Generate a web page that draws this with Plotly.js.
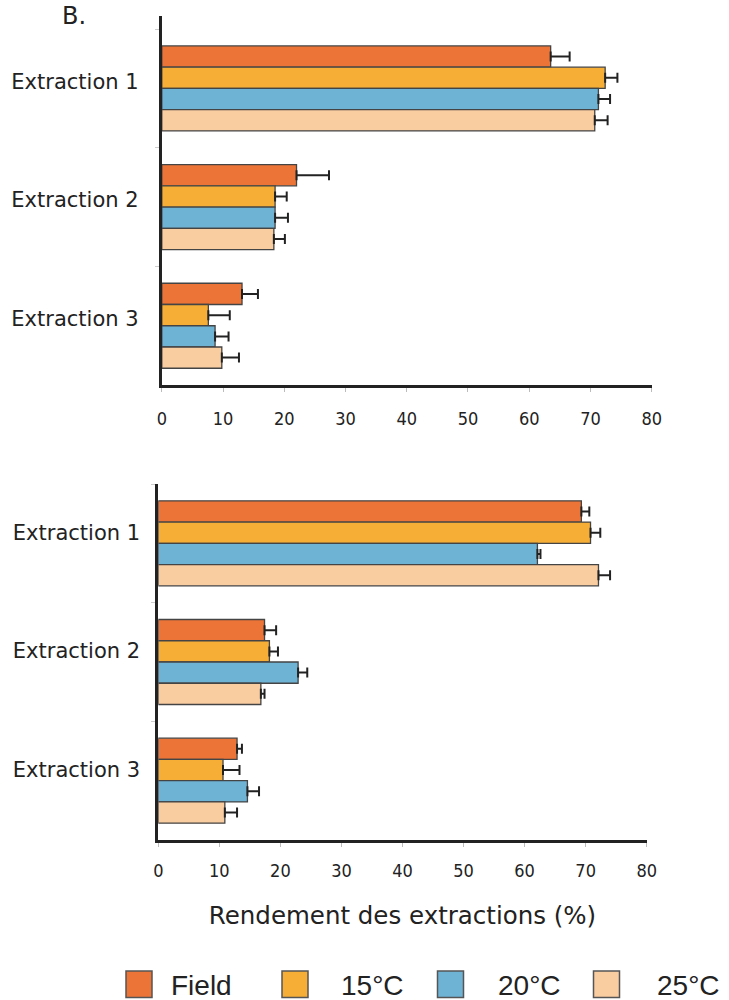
<!DOCTYPE html>
<html>
<head>
<meta charset="utf-8">
<script src="https://cdn.plot.ly/plotly-3.0.1.min.js"></script>
<style>html,body{margin:0;padding:0;background:#fff;}#chart{width:729px;height:1000px;}</style>
</head>
<body>
<div id="chart"></div>
<script>
// ---- data ----
var categories = ['Extraction 1', 'Extraction 2', 'Extraction 3'];
var seriesNames = ['Field', '15°C', '20°C', '25°C'];
var xTickVals = [0, 10, 20, 30, 40, 50, 60, 70, 80];
var xTitle = 'Rendement des extractions (%)';
var panelLabel = 'B.';

// top panel
var topField = [63.5, 22.0, 13.1];
var topFieldErr = [3.1, 5.3, 2.6];
var top15 = [72.4, 18.5, 7.6];
var top15Err = [2.0, 1.9, 3.5];
var top20 = [71.3, 18.5, 8.7];
var top20Err = [1.9, 2.1, 2.2];
var top25 = [70.7, 18.3, 9.8];
var top25Err = [2.1, 1.8, 2.8];

// bottom panel
var bottomField = [69.3, 17.4, 12.9];
var bottomFieldErr = [1.3, 1.9, 0.8];
var bottom15 = [70.8, 18.2, 10.6];
var bottom15Err = [1.6, 1.4, 2.7];
var bottom20 = [62.1, 22.9, 14.6];
var bottom20Err = [0.5, 1.5, 1.9];
var bottom25 = [72.1, 16.8, 10.9];
var bottom25Err = [1.9, 0.6, 2.0];

// ---- styles ----
var colors = ['#EC7437', '#F6AE36', '#6EB2D4', '#FACDA0'];
var W = 729, H = 1000;
var narrowFont = '"Liberation Sans Narrow", "Arial Narrow", "DejaVu Sans Condensed", sans-serif';
var labelFont = '"DejaVu Sans", Verdana, sans-serif';
var legendFont = '"Liberation Sans", Arial, sans-serif';

var topVals = [topField, top15, top20, top25];
var topErrs = [topFieldErr, top15Err, top20Err, top25Err];
var botVals = [bottomField, bottom15, bottom20, bottom25];
var botErrs = [bottomFieldErr, bottom15Err, bottom20Err, bottom25Err];

function zeros(n) { var a = []; for (var i = 0; i < n; i++) a.push(0); return a; }

var traces = [];
function addPanel(vals, errs, xa, ya) {
  for (var s = 0; s < seriesNames.length; s++) {
    traces.push({
      type: 'bar',
      orientation: 'h',
      name: seriesNames[s],
      x: vals[s],
      y: categories,
      xaxis: xa,
      yaxis: ya,
      showlegend: false,
      marker: { color: colors[s], line: { color: '#444', width: 1.3 } },
      error_x: {
        type: 'data', array: errs[s], arrayminus: zeros(errs[s].length),
        symmetric: false, color: '#222', thickness: 2, width: 5
      },
      hoverinfo: 'x+y+name'
    });
  }
}
addPanel(topVals, topErrs, 'x', 'y');
addPanel(botVals, botErrs, 'x2', 'y2');

function px(x) { return x / W; }
function py(y) { return 1 - y / H; }

var xCommon = {
  range: [0, 80], tickvals: xTickVals, ticks: 'outside', ticklen: 4, tickcolor: '#bbb', tickwidth: 1,
  showline: true, linecolor: '#222', linewidth: 3, showgrid: false, zeroline: false,
  tickfont: { family: narrowFont, size: 18, color: '#222' }, fixedrange: true
};
var yCommon = {
  type: 'category', showline: true, linecolor: '#222', linewidth: 3, showgrid: false, zeroline: false,
  ticks: 'outside', tickson: 'boundaries', ticklen: 4, tickcolor: '#ccc', tickwidth: 1,
  tickfont: { family: labelFont, size: 21, color: '#222' }, fixedrange: true
};

function merge(a, b) { var o = {}; for (var k in a) o[k] = a[k]; for (var k2 in b) o[k2] = b[k2]; return o; }

// legend built from series names
var shapes = [], annotations = [];
var legendBoxLeft = [126, 282, 437.5, 593.5];
var legendTextLeft = [169, 339, 496, 655];
for (var i = 0; i < seriesNames.length; i++) {
  shapes.push({
    type: 'rect', xref: 'paper', yref: 'paper',
    x0: px(legendBoxLeft[i]), x1: px(legendBoxLeft[i] + 26), y0: py(971), y1: py(997.5),
    fillcolor: colors[i], line: { color: '#555', width: 1.5 }
  });
  annotations.push({
    text: seriesNames[i], xref: 'paper', yref: 'paper', x: px(legendTextLeft[i]), y: py(985),
    xanchor: 'left', yanchor: 'middle', showarrow: false,
    font: { family: legendFont, size: 28, color: '#222' }
  });
}
annotations.push({
  text: panelLabel, xref: 'paper', yref: 'paper', x: px(60), y: py(0), xanchor: 'left', yanchor: 'top',
  showarrow: false, font: { family: labelFont, size: 24, color: '#222' }
});

var layout = {
  width: W, height: H,
  margin: { l: 0, r: 0, t: 0, b: 0, pad: 0 },
  paper_bgcolor: '#fff', plot_bgcolor: '#fff',
  barmode: 'group', bargap: 0.284, bargroupgap: 0,
  showlegend: false,
  font: { family: labelFont, color: '#222' },
  xaxis: merge(xCommon, { domain: [px(161.8), px(651.7)], anchor: 'y', ticklabelstandoff: 12 }),
  yaxis: merge(yCommon, { domain: [py(384.5), py(16)], anchor: 'x', range: [2.495, -0.61], ticklabelshift: 7, ticklabelstandoff: 16 }),
  xaxis2: merge(xCommon, {
    domain: [px(158.3), px(646.7)], anchor: 'y2', ticklabelstandoff: 8,
    title: { text: xTitle, font: { family: labelFont, size: 24.5, color: '#222' }, standoff: 28 }
  }),
  yaxis2: merge(yCommon, { domain: [py(840), py(484)], anchor: 'x2', range: [2.5, -0.5], ticklabelshift: 11, ticklabelstandoff: 11 }),
  shapes: shapes,
  annotations: annotations
};

Plotly.newPlot('chart', traces, layout, { displayModeBar: false, staticPlot: true });
</script>
</body>
</html>
